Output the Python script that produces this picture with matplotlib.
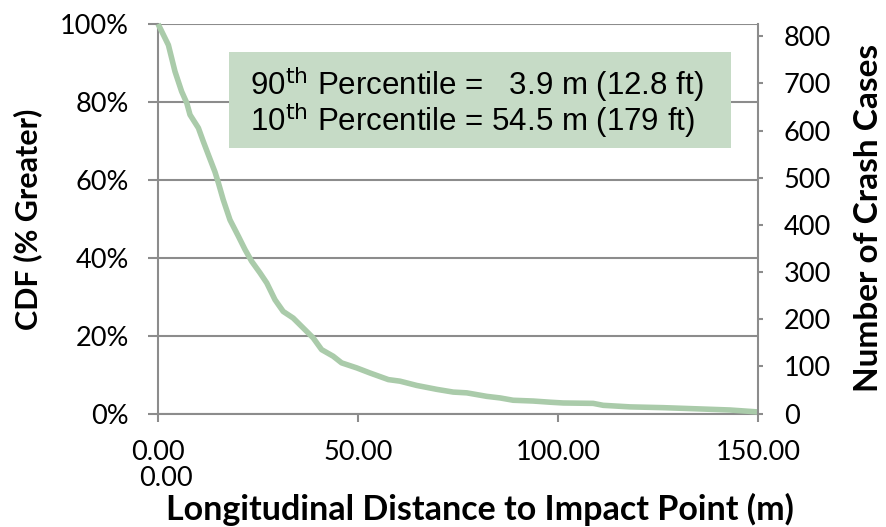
import matplotlib
matplotlib.use("Agg")
import matplotlib.pyplot as plt
from matplotlib.ticker import FuncFormatter
from matplotlib.patches import Rectangle

# ---- data ----
distance_m = [0, 0.5, 2.6, 4.25, 5.9, 7.2, 8.0, 10.1, 11.3, 12.6, 14.25, 15.1, 16.3, 18.0,
              20.1, 21.75, 23.4, 25.5, 27.2, 29.25, 31.3, 33.8, 36.75, 38.8, 40.9, 43.8,
              45.9, 49.7, 53.0, 57.6, 60.5, 64.7, 69.7, 73.8, 77.2, 82.2, 85.5, 88.8,
              93.8, 98.0, 101.3, 108.8, 111.3, 118.0, 126.3, 134.7, 143.0, 150.0]
cdf_pct = [100, 99.0, 94.6, 87.8, 82.7, 79.7, 76.7, 73.3, 69.9, 66.4, 62.0, 59.2, 54.9, 49.7,
           45.5, 42.1, 39.1, 36.1, 33.5, 29.2, 26.2, 24.5, 21.5, 19.4, 16.4, 14.7,
           13.0, 11.7, 10.4, 8.7, 8.3, 7.2, 6.2, 5.5, 5.3, 4.4, 4.0, 3.4,
           3.2, 2.9, 2.7, 2.6, 2.1, 1.7, 1.5, 1.2, 0.9, 0.4]
x_ticks = [0, 50, 100, 150]
y_ticks = [0, 20, 40, 60, 80, 100]
y2_ticks = [0, 100, 200, 300, 400, 500, 600, 700, 800]
y2_max = 826
annotation_lines = [r"90$^{\mathrm{th}}$ Percentile =   3.9 m (12.8 ft)",
                    r"10$^{\mathrm{th}}$ Percentile = 54.5 m (179 ft)"]

W, H = 886, 527
fig = plt.figure(figsize=(W / 100, H / 100), dpi=100)
L, R, T, B = 158, 758, 24, 413.5
ax = fig.add_axes([L / W, 1 - B / H, (R - L) / W, (B - T) / H])

grid_c = "#8c8c8c"
line_c = "#aacbaa"
tick_font = "Lato"
tick_size = 19.5

ax.plot(distance_m, cdf_pct, color=line_c, lw=4.0, solid_capstyle="butt",
        solid_joinstyle="round", clip_on=False, zorder=5)
ax.set_xlim(0, 150)
ax.set_ylim(0, 100)
ax.set_xticks(x_ticks)
ax.set_yticks(y_ticks)
ax.xaxis.set_major_formatter(FuncFormatter(lambda v, p: f"{v:.2f}"))
ax.yaxis.set_major_formatter(FuncFormatter(lambda v, p: f"{v:.0f}%"))
ax.grid(axis="y", color=grid_c, lw=1.5, zorder=0)
ax.set_axisbelow(True)
for s in ["top", "right"]:
    ax.spines[s].set_visible(False)
for s in ["left", "bottom"]:
    ax.spines[s].set_color(grid_c)
    ax.spines[s].set_linewidth(1.5)
ax.tick_params(axis="y", direction="out", length=7, width=1.5, color=grid_c,
               labelsize=tick_size, pad=14)
ax.tick_params(axis="x", direction="out", length=6, width=1.5, color=grid_c,
               labelsize=tick_size, pad=13)
for lab in ax.get_xticklabels() + ax.get_yticklabels():
    lab.set_fontfamily(tick_font)

ax2 = ax.twinx()
ax2.set_ylim(0, y2_max)
ax2.set_yticks(y2_ticks)
for s in ["top", "left", "bottom"]:
    ax2.spines[s].set_visible(False)
ax2.spines["right"].set_color(grid_c)
ax2.spines["right"].set_linewidth(1.5)
ax2.tick_params(axis="y", direction="out", length=3.6, width=1.5, color=grid_c,
                labelsize=tick_size, pad=15)
for lab in ax2.get_yticklabels():
    lab.set_fontfamily(tick_font)

# extra "0.00" label under the axis, as in the reference
fig.text(166 / W, 1 - 479 / H, "0.00", fontsize=tick_size, family=tick_font,
         ha="center", va="center")

fig.text(28 / W, 1 - 219 / H, "CDF (% Greater)", fontsize=22, fontweight="bold",
         family="Lato", rotation=90, ha="center", va="center")
fig.text(869 / W, 1 - 218 / H, "Number of Crash Cases", fontsize=24, fontweight="bold",
         family="Lato", rotation=90, ha="center", va="center")
fig.text(480 / W, 1 - 509 / H, "Longitudinal Distance to Impact Point (m)", fontsize=24.5,
         fontweight="bold", family="Lato", ha="center", va="center")

# annotation box
bx0, bx1, by0, by1 = 229, 731, 52, 148
fig.patches.append(Rectangle((bx0 / W, 1 - by1 / H), (bx1 - bx0) / W, (by1 - by0) / H,
                             transform=fig.transFigure, facecolor="#c6dbc6",
                             edgecolor="none", zorder=3))
fig.text(250 / W, 1 - 84 / H, annotation_lines[0], fontsize=22.5, family="Liberation Sans",
         ha="left", va="center", zorder=4)
fig.text(250 / W, 1 - 120 / H, annotation_lines[1], fontsize=22.5, family="Liberation Sans",
         ha="left", va="center", zorder=4)

fig.savefig("out.png", dpi=100)
